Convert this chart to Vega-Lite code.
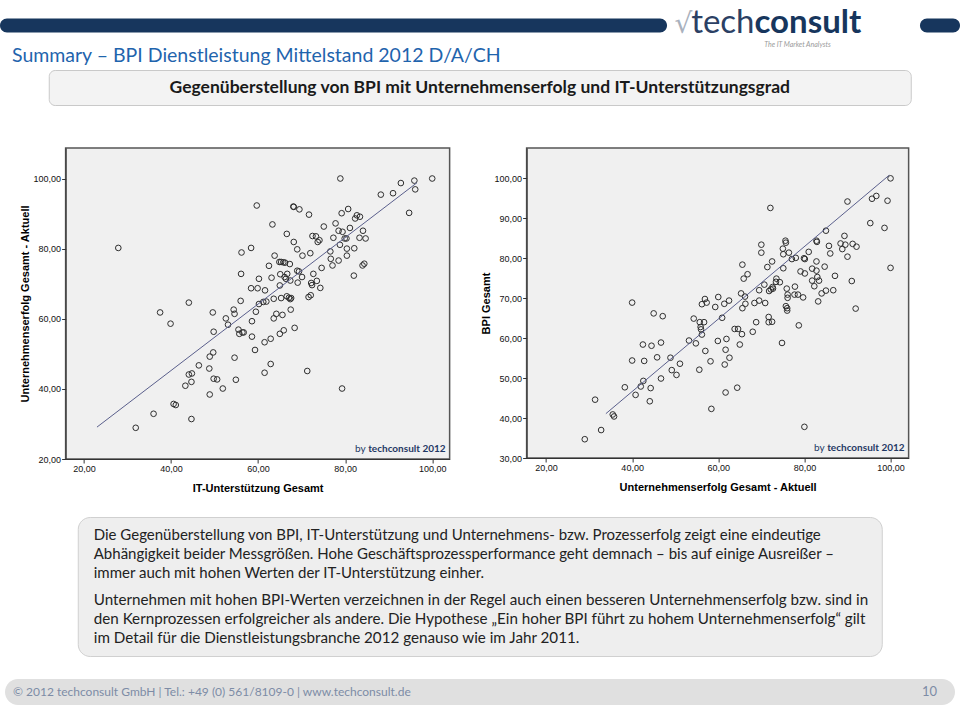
{
  "$schema": "https://vega.github.io/schema/vega-lite/v6.json",
  "background": "white",
  "padding": {"top": 3, "left": 0, "right": 0, "bottom": 0},
  "config": {
    "view": {"stroke": null},
    "font": "Lato",
    "axis": {
      "grid": false,
      "domainColor": "#333333",
      "tickColor": "#333333",
      "tickSize": 4,
      "labelFont": "Liberation Sans",
      "labelFontSize": 9,
      "labelColor": "#111111",
      "labelPadding": 1,
      "titleFont": "Liberation Sans",
      "titleFontSize": 11,
      "titleFontWeight": "bold",
      "titleColor": "#000000",
      "labelExpr": "replace(format(datum.value, '.2f'), '.', ',')"
    }
  },
  "datasets": {
    "it_vs_success": [
      {"it_support": 27.9, "success": 80.2}, {"it_support": 59.7, "success": 92.3}, {"it_support": 56.2, "success": 78.9},
      {"it_support": 58.4, "success": 80.2}, {"it_support": 56.1, "success": 72.8}, {"it_support": 60.2, "success": 71.4},
      {"it_support": 58.4, "success": 68.7}, {"it_support": 59.9, "success": 68.7}, {"it_support": 44.1, "success": 64.6},
      {"it_support": 56.0, "success": 65.1}, {"it_support": 60.2, "success": 64.2}, {"it_support": 37.5, "success": 61.8},
      {"it_support": 49.6, "success": 61.8}, {"it_support": 54.4, "success": 62.6}, {"it_support": 54.6, "success": 61.4},
      {"it_support": 52.6, "success": 60.1}, {"it_support": 39.9, "success": 58.6}, {"it_support": 53.1, "success": 58.3},
      {"it_support": 49.8, "success": 56.3}, {"it_support": 55.5, "success": 56.9}, {"it_support": 55.7, "success": 55.7},
      {"it_support": 56.4, "success": 56.1}, {"it_support": 56.7, "success": 56.1}, {"it_support": 58.6, "success": 59.3},
      {"it_support": 59.5, "success": 62.0}, {"it_support": 58.6, "success": 54.9}, {"it_support": 59.3, "success": 51.1},
      {"it_support": 49.7, "success": 50.4}, {"it_support": 48.9, "success": 49.2}, {"it_support": 54.6, "success": 48.9},
      {"it_support": 46.4, "success": 46.7}, {"it_support": 48.8, "success": 45.8}, {"it_support": 44.1, "success": 44.1},
      {"it_support": 44.8, "success": 44.4}, {"it_support": 49.8, "success": 42.9}, {"it_support": 50.6, "success": 42.7},
      {"it_support": 54.9, "success": 42.6}, {"it_support": 44.7, "success": 42.0}, {"it_support": 43.3, "success": 40.9},
      {"it_support": 51.9, "success": 40.1}, {"it_support": 48.9, "success": 38.4}, {"it_support": 40.6, "success": 35.7},
      {"it_support": 41.1, "success": 35.4}, {"it_support": 36.0, "success": 32.9}, {"it_support": 44.7, "success": 31.4},
      {"it_support": 31.9, "success": 28.9}, {"it_support": 78.9, "success": 100.0}, {"it_support": 100.0, "success": 100.0},
      {"it_support": 95.9, "success": 99.4}, {"it_support": 92.8, "success": 98.7}, {"it_support": 96.1, "success": 96.9},
      {"it_support": 91.0, "success": 95.8}, {"it_support": 88.2, "success": 95.4}, {"it_support": 94.7, "success": 90.2},
      {"it_support": 68.1, "success": 92.0}, {"it_support": 68.2, "success": 91.9}, {"it_support": 69.5, "success": 91.2},
      {"it_support": 71.7, "success": 89.7}, {"it_support": 80.7, "success": 91.3}, {"it_support": 79.2, "success": 90.1},
      {"it_support": 82.7, "success": 89.5}, {"it_support": 83.4, "success": 89.1}, {"it_support": 82.3, "success": 88.6},
      {"it_support": 63.3, "success": 86.9}, {"it_support": 75.1, "success": 86.3}, {"it_support": 77.8, "success": 87.2},
      {"it_support": 81.1, "success": 85.9}, {"it_support": 78.5, "success": 85.1}, {"it_support": 79.4, "success": 84.8},
      {"it_support": 84.1, "success": 85.1}, {"it_support": 66.6, "success": 84.2}, {"it_support": 72.5, "success": 83.6},
      {"it_support": 73.3, "success": 83.5}, {"it_support": 73.7, "success": 81.9}, {"it_support": 74.1, "success": 82.4},
      {"it_support": 77.3, "success": 83.1}, {"it_support": 79.9, "success": 82.9}, {"it_support": 80.3, "success": 82.9},
      {"it_support": 83.3, "success": 83.1}, {"it_support": 84.7, "success": 82.9}, {"it_support": 68.2, "success": 81.9},
      {"it_support": 78.8, "success": 81.1}, {"it_support": 69.0, "success": 79.8}, {"it_support": 76.6, "success": 79.2},
      {"it_support": 80.4, "success": 80.0}, {"it_support": 82.1, "success": 80.1}, {"it_support": 72.0, "success": 78.7},
      {"it_support": 70.2, "success": 78.0}, {"it_support": 63.8, "success": 78.0}, {"it_support": 80.4, "success": 78.0},
      {"it_support": 76.7, "success": 77.1}, {"it_support": 78.5, "success": 76.6}, {"it_support": 64.9, "success": 76.2},
      {"it_support": 65.3, "success": 76.2}, {"it_support": 65.8, "success": 76.1}, {"it_support": 66.2, "success": 76.0},
      {"it_support": 67.3, "success": 75.6}, {"it_support": 62.5, "success": 75.1}, {"it_support": 77.1, "success": 75.2},
      {"it_support": 84.0, "success": 75.2}, {"it_support": 84.4, "success": 75.7}, {"it_support": 74.6, "success": 74.5},
      {"it_support": 69.0, "success": 73.7}, {"it_support": 69.4, "success": 73.5}, {"it_support": 65.1, "success": 72.7},
      {"it_support": 66.7, "success": 72.8}, {"it_support": 72.7, "success": 72.8}, {"it_support": 66.1, "success": 71.9},
      {"it_support": 66.4, "success": 71.4}, {"it_support": 70.1, "success": 71.9}, {"it_support": 63.1, "success": 71.7},
      {"it_support": 82.0, "success": 72.3}, {"it_support": 73.5, "success": 70.8}, {"it_support": 67.4, "success": 70.9},
      {"it_support": 69.1, "success": 70.3}, {"it_support": 72.2, "success": 70.2}, {"it_support": 72.4, "success": 69.6},
      {"it_support": 65.0, "success": 69.5}, {"it_support": 74.3, "success": 68.8}, {"it_support": 61.6, "success": 68.1},
      {"it_support": 66.6, "success": 66.4}, {"it_support": 67.1, "success": 66.0}, {"it_support": 67.4, "success": 65.6},
      {"it_support": 67.6, "success": 65.9}, {"it_support": 65.3, "success": 65.9}, {"it_support": 63.6, "success": 65.7},
      {"it_support": 71.6, "success": 66.2}, {"it_support": 72.1, "success": 66.7}, {"it_support": 61.2, "success": 64.8},
      {"it_support": 61.9, "success": 64.9}, {"it_support": 64.2, "success": 61.4}, {"it_support": 65.6, "success": 61.1},
      {"it_support": 63.6, "success": 60.1}, {"it_support": 67.5, "success": 62.6}, {"it_support": 61.5, "success": 53.3},
      {"it_support": 62.9, "success": 54.3}, {"it_support": 65.0, "success": 55.7}, {"it_support": 65.9, "success": 56.7},
      {"it_support": 68.4, "success": 57.4}, {"it_support": 62.9, "success": 47.1}, {"it_support": 61.5, "success": 44.6},
      {"it_support": 71.3, "success": 45.1}, {"it_support": 79.3, "success": 40.1}
    ],
    "fit_left": [
      {"it_support": 23.0, "success": 29.1},
      {"it_support": 96.5, "success": 98.8}
    ],
    "success_vs_bpi": [
      {"success": 40.0, "bpi": 68.9}, {"success": 56.9, "bpi": 69.8}, {"success": 57.3, "bpi": 68.9}, {"success": 56.2, "bpi": 68.5},
      {"success": 60.0, "bpi": 70.3}, {"success": 100.0, "bpi": 100.0}, {"success": 96.7, "bpi": 95.6}, {"success": 95.7, "bpi": 94.9},
      {"success": 99.3, "bpi": 94.4}, {"success": 90.0, "bpi": 94.2}, {"success": 72.1, "bpi": 92.6}, {"success": 95.3, "bpi": 88.8},
      {"success": 98.6, "bpi": 87.6}, {"success": 85.0, "bpi": 86.9}, {"success": 89.3, "bpi": 85.6}, {"success": 75.6, "bpi": 84.4},
      {"success": 75.7, "bpi": 83.9}, {"success": 82.8, "bpi": 84.4}, {"success": 82.9, "bpi": 84.1}, {"success": 70.0, "bpi": 83.4},
      {"success": 88.4, "bpi": 83.7}, {"success": 89.5, "bpi": 83.4}, {"success": 91.2, "bpi": 83.6}, {"success": 92.1, "bpi": 82.9},
      {"success": 85.7, "bpi": 83.1}, {"success": 75.0, "bpi": 82.4}, {"success": 81.0, "bpi": 81.6}, {"success": 88.8, "bpi": 82.3},
      {"success": 86.0, "bpi": 81.2}, {"success": 70.0, "bpi": 81.4}, {"success": 75.1, "bpi": 81.0}, {"success": 76.4, "bpi": 81.4},
      {"success": 90.0, "bpi": 80.4}, {"success": 78.0, "bpi": 80.1}, {"success": 77.1, "bpi": 79.8}, {"success": 79.9, "bpi": 80.0},
      {"success": 80.1, "bpi": 79.8}, {"success": 72.5, "bpi": 79.2}, {"success": 82.8, "bpi": 79.2}, {"success": 65.6, "bpi": 78.4},
      {"success": 71.4, "bpi": 77.8}, {"success": 75.1, "bpi": 77.5}, {"success": 100.0, "bpi": 77.6}, {"success": 84.7, "bpi": 77.9},
      {"success": 81.8, "bpi": 77.4}, {"success": 82.8, "bpi": 76.9}, {"success": 79.1, "bpi": 76.7}, {"success": 80.1, "bpi": 76.2},
      {"success": 66.8, "bpi": 76.0}, {"success": 65.9, "bpi": 74.9}, {"success": 87.1, "bpi": 75.6}, {"success": 83.0, "bpi": 75.3},
      {"success": 81.8, "bpi": 74.4}, {"success": 83.4, "bpi": 74.4}, {"success": 73.5, "bpi": 74.9}, {"success": 73.4, "bpi": 74.1},
      {"success": 74.3, "bpi": 74.0}, {"success": 70.7, "bpi": 73.4}, {"success": 91.0, "bpi": 74.3}, {"success": 72.6, "bpi": 72.8},
      {"success": 72.2, "bpi": 72.2}, {"success": 71.8, "bpi": 71.8}, {"success": 72.7, "bpi": 72.4}, {"success": 69.5, "bpi": 72.0},
      {"success": 75.9, "bpi": 72.4}, {"success": 77.8, "bpi": 72.9}, {"success": 82.3, "bpi": 73.0}, {"success": 85.0, "bpi": 71.9},
      {"success": 84.0, "bpi": 71.2}, {"success": 86.7, "bpi": 72.0}, {"success": 65.3, "bpi": 71.2}, {"success": 66.2, "bpi": 70.4},
      {"success": 76.1, "bpi": 70.9}, {"success": 76.1, "bpi": 70.1}, {"success": 77.7, "bpi": 70.9}, {"success": 78.5, "bpi": 70.9},
      {"success": 79.7, "bpi": 70.2}, {"success": 62.5, "bpi": 69.4}, {"success": 61.4, "bpi": 68.6}, {"success": 69.5, "bpi": 69.4},
      {"success": 68.4, "bpi": 68.8}, {"success": 70.9, "bpi": 68.8}, {"success": 83.2, "bpi": 69.2}, {"success": 66.3, "bpi": 68.6},
      {"success": 45.0, "bpi": 66.2}, {"success": 47.1, "bpi": 65.5}, {"success": 54.3, "bpi": 64.9}, {"success": 59.3, "bpi": 67.8},
      {"success": 55.7, "bpi": 64.0}, {"success": 56.7, "bpi": 64.0}, {"success": 55.9, "bpi": 62.8}, {"success": 56.0, "bpi": 62.2},
      {"success": 56.2, "bpi": 60.9}, {"success": 42.5, "bpi": 58.4}, {"success": 44.5, "bpi": 58.1}, {"success": 46.7, "bpi": 58.9},
      {"success": 53.2, "bpi": 59.4}, {"success": 54.8, "bpi": 58.7}, {"success": 59.9, "bpi": 59.3}, {"success": 57.0, "bpi": 56.8},
      {"success": 40.0, "bpi": 54.4}, {"success": 42.8, "bpi": 54.3}, {"success": 45.8, "bpi": 55.2}, {"success": 48.9, "bpi": 55.1},
      {"success": 51.1, "bpi": 53.6}, {"success": 58.2, "bpi": 54.2}, {"success": 49.2, "bpi": 52.0}, {"success": 50.3, "bpi": 50.8},
      {"success": 55.6, "bpi": 52.1}, {"success": 46.7, "bpi": 49.9}, {"success": 42.6, "bpi": 49.3}, {"success": 42.0, "bpi": 47.9},
      {"success": 38.3, "bpi": 47.7}, {"success": 44.3, "bpi": 47.5}, {"success": 40.8, "bpi": 45.8}, {"success": 44.1, "bpi": 44.2},
      {"success": 31.4, "bpi": 44.6}, {"success": 35.5, "bpi": 40.9}, {"success": 35.8, "bpi": 40.4}, {"success": 58.4, "bpi": 42.3},
      {"success": 32.8, "bpi": 37.0}, {"success": 29.0, "bpi": 34.7}, {"success": 65.6, "bpi": 67.5}, {"success": 60.9, "bpi": 65.1},
      {"success": 75.7, "bpi": 68.0}, {"success": 76.0, "bpi": 67.5}, {"success": 76.0, "bpi": 66.9}, {"success": 91.9, "bpi": 67.4},
      {"success": 68.8, "bpi": 64.0}, {"success": 71.7, "bpi": 65.3}, {"success": 71.7, "bpi": 64.0}, {"success": 72.5, "bpi": 64.1},
      {"success": 63.8, "bpi": 62.3}, {"success": 64.6, "bpi": 62.3}, {"success": 65.5, "bpi": 61.0}, {"success": 68.0, "bpi": 61.6},
      {"success": 78.7, "bpi": 63.2}, {"success": 61.9, "bpi": 59.8}, {"success": 65.0, "bpi": 58.4}, {"success": 74.8, "bpi": 58.8},
      {"success": 61.7, "bpi": 57.1}, {"success": 62.6, "bpi": 55.1}, {"success": 61.5, "bpi": 53.4}, {"success": 64.4, "bpi": 47.6},
      {"success": 61.7, "bpi": 46.4}, {"success": 80.0, "bpi": 37.8}
    ],
    "fit_right": [
      {"success": 33.9, "bpi": 41.1},
      {"success": 99.7, "bpi": 100.8}
    ],
    "paragraph": [
      {"para": 1, "line": 1, "text": "Die Gegenüberstellung von BPI, IT-Unterstützung und Unternehmens- bzw. Prozesserfolg zeigt eine eindeutige"},
      {"para": 1, "line": 2, "text": "Abhängigkeit beider Messgrößen. Hohe Geschäftsprozessperformance geht demnach – bis auf einige Ausreißer –"},
      {"para": 1, "line": 3, "text": "immer auch mit hohen Werten der IT-Unterstützung einher."},
      {"para": 2, "line": 4, "text": "Unternehmen mit hohen BPI-Werten verzeichnen in der Regel auch einen besseren Unternehmenserfolg bzw. sind in"},
      {"para": 2, "line": 5, "text": "den Kernprozessen erfolgreicher als andere. Die Hypothese „Ein hoher BPI führt zu hohem Unternehmenserfolg“ gilt"},
      {"para": 2, "line": 6, "text": "im Detail für die Dienstleistungsbranche 2012 genauso wie im Jahr 2011."}
    ],
    "one": [{}]
  },
  "spacing": 41,
  "center": true,
  "vconcat": [
    {
      "spacing": -3,
      "center": true,
      "vconcat": [
        {
          "spacing": 0,
          "center": true,
          "hconcat": [
            {
              "width": 667, "height": 14,
              "data": {"name": "one"},
              "mark": {"type": "text", "text": "", "fontSize": 1},
              "view": {"fill": "#17365d", "cornerRadius": 7}
            },
            {
              "width": 253, "height": 42,
              "data": {"name": "one"},
              "layer": [
                {"mark": {"type": "text", "text": "√", "font": "DejaVu Sans", "fontSize": 28, "color": "#a9b1bd", "align": "center", "baseline": "alphabetic", "dx": -110, "dy": 9}},
                {"mark": {"type": "text", "text": "tech", "fontSize": 33, "color": "#2b4064", "align": "right", "baseline": "alphabetic", "dx": -39, "dy": 9}},
                {"mark": {"type": "text", "text": "consult", "fontSize": 33, "fontWeight": "bold", "color": "#17365d", "align": "left", "baseline": "alphabetic", "dx": -39, "dy": 9}},
                {"mark": {"type": "text", "text": "The IT Market Analysts", "fontSize": 7, "fontStyle": "italic", "color": "#9a9a9a", "align": "center", "baseline": "alphabetic", "dx": 4, "dy": 23}}
              ]
            },
            {
              "width": 40, "height": 14,
              "data": {"name": "one"},
              "mark": {"type": "text", "text": "", "fontSize": 1},
              "view": {"fill": "#17365d", "cornerRadius": 7}
            }
          ]
        },
        {
          "width": 936, "height": 22,
          "data": {"name": "one"},
          "mark": {"type": "text", "text": "Summary – BPI Dienstleistung Mittelstand 2012 D/A/CH", "fontSize": 19.5, "color": "#1f64ad", "align": "left", "baseline": "middle", "dy": -3.5},
          "encoding": {"x": {"datum": 0, "type": "quantitative", "scale": {"domain": [0, 1]}, "axis": null}}
        },
        {
          "width": 862, "height": 35,
          "data": {"name": "one"},
          "mark": {"type": "text", "text": "Gegenüberstellung von BPI mit Unternehmenserfolg und IT-Unterstützungsgrad", "fontSize": 17.5, "fontWeight": "bold", "color": "#1a1a1a", "align": "center", "baseline": "middle"},
          "view": {"fill": "#f3f3f3", "stroke": "#c9c9c9", "strokeWidth": 1, "cornerRadius": 6}
        }
      ]
    },
    {
      "spacing": 22,
      "center": true,
      "vconcat": [
        {
          "spacing": 0,
          "bounds": "flush",
          "hconcat": [
            {
              "width": 15, "height": 311,
              "data": {"name": "one"},
              "mark": {"type": "text", "text": "", "fontSize": 1}
            },
            {
              "spacing": 77,
              "bounds": "flush",
              "hconcat": [
                {
                  "width": 384, "height": 311,
                  "view": {"fill": "#f0f0f0", "stroke": "#555555", "strokeWidth": 1.5},
                  "layer": [
                    {
                      "data": {"name": "it_vs_success"},
                      "mark": {"type": "point", "shape": "circle", "filled": false, "size": 32, "stroke": "#2e2e2e", "strokeWidth": 1, "opacity": 1},
                      "encoding": {
                        "x": {"field": "it_support", "type": "quantitative", "scale": {"domain": [15.8, 104], "nice": false, "zero": false},
                              "axis": {"values": [20, 40, 60, 80, 100], "title": "IT-Unterstützung Gesamt", "titlePadding": 9}},
                        "y": {"field": "success", "type": "quantitative", "scale": {"domain": [20, 108.7], "nice": false, "zero": false},
                              "axis": {"values": [20, 40, 60, 80, 100], "title": "Unternehmenserfolg Gesamt - Aktuell", "titlePadding": 3, "labelPadding": 1}}
                      }
                    },
                    {
                      "data": {"name": "fit_left"},
                      "mark": {"type": "line", "color": "#5a5f8c", "strokeWidth": 1},
                      "encoding": {
                        "x": {"field": "it_support", "type": "quantitative"},
                        "y": {"field": "success", "type": "quantitative"}
                      }
                    },
                    {
                      "data": {"name": "one"},
                      "mark": {"type": "text", "text": "techconsult 2012", "fontSize": 10, "fontWeight": "bold", "color": "#1f3864", "align": "right", "baseline": "bottom", "dx": -4, "dy": -5},
                      "encoding": {"x": {"datum": 104, "type": "quantitative"}, "y": {"datum": 20, "type": "quantitative"}}
                    },
                    {
                      "data": {"name": "one"},
                      "mark": {"type": "text", "text": "by", "fontSize": 10, "color": "#1f3864", "align": "right", "baseline": "bottom", "dx": -84, "dy": -5},
                      "encoding": {"x": {"datum": 104, "type": "quantitative"}, "y": {"datum": 20, "type": "quantitative"}}
                    }
                  ]
                },
                {
                  "width": 382, "height": 310,
                  "view": {"fill": "#f0f0f0", "stroke": "#555555", "strokeWidth": 1.5},
                  "layer": [
                    {
                      "data": {"name": "success_vs_bpi"},
                      "mark": {"type": "point", "shape": "circle", "filled": false, "size": 32, "stroke": "#2e2e2e", "strokeWidth": 1, "opacity": 1},
                      "encoding": {
                        "x": {"field": "success", "type": "quantitative", "scale": {"domain": [15.5, 104.2], "nice": false, "zero": false},
                              "axis": {"values": [20, 40, 60, 80, 100], "title": "Unternehmenserfolg Gesamt - Aktuell", "titlePadding": 9}},
                        "y": {"field": "bpi", "type": "quantitative", "scale": {"domain": [30, 107.6], "nice": false, "zero": false},
                              "axis": {"values": [30, 40, 50, 60, 70, 80, 90, 100], "title": "BPI Gesamt", "titlePadding": 3, "labelPadding": 1}}
                      }
                    },
                    {
                      "data": {"name": "fit_right"},
                      "mark": {"type": "line", "color": "#5a5f8c", "strokeWidth": 1},
                      "encoding": {
                        "x": {"field": "success", "type": "quantitative"},
                        "y": {"field": "bpi", "type": "quantitative"}
                      }
                    },
                    {
                      "data": {"name": "one"},
                      "mark": {"type": "text", "text": "techconsult 2012", "fontSize": 10, "fontWeight": "bold", "color": "#1f3864", "align": "right", "baseline": "bottom", "dx": -4, "dy": -5},
                      "encoding": {"x": {"datum": 104.2, "type": "quantitative"}, "y": {"datum": 30, "type": "quantitative"}}
                    },
                    {
                      "data": {"name": "one"},
                      "mark": {"type": "text", "text": "by", "fontSize": 10, "color": "#1f3864", "align": "right", "baseline": "bottom", "dx": -84, "dy": -5},
                      "encoding": {"x": {"datum": 104.2, "type": "quantitative"}, "y": {"datum": 30, "type": "quantitative"}}
                    }
                  ]
                }
              ]
            }
          ]
        },
        {
          "width": 804, "height": 139,
          "view": {"fill": "#eeeeee", "stroke": "#d0d0d0", "strokeWidth": 1, "cornerRadius": 12},
          "data": {"name": "paragraph"},
          "layer": [
            {
              "transform": [{"filter": "datum.para == 1"}],
              "mark": {"type": "text", "align": "left", "baseline": "middle", "fontSize": 15, "color": "#222222", "dx": 16},
              "encoding": {
                "x": {"datum": 0, "type": "quantitative", "scale": {"domain": [0, 1]}, "axis": null},
                "y": {"field": "line", "type": "quantitative", "scale": {"domain": [0.04, 7.43], "reverse": true, "nice": false, "zero": false}, "axis": null},
                "text": {"field": "text"}
              }
            },
            {
              "transform": [{"filter": "datum.para == 2"}],
              "mark": {"type": "text", "align": "left", "baseline": "middle", "fontSize": 15.2, "color": "#222222", "dx": 16, "dy": 9},
              "encoding": {
                "x": {"datum": 0, "type": "quantitative", "scale": {"domain": [0, 1]}, "axis": null},
                "y": {"field": "line", "type": "quantitative", "axis": null},
                "text": {"field": "text"}
              }
            }
          ]
        },
        {
          "width": 950, "height": 26,
          "view": {"fill": "#e0e0e0", "cornerRadius": 13},
          "data": {"name": "one"},
          "layer": [
            {
              "mark": {"type": "text", "text": "© 2012 techconsult GmbH   |   Tel.: +49 (0) 561/8109-0   |   www.techconsult.de", "align": "left", "baseline": "middle", "fontSize": 12, "color": "#7d8ca6", "dx": 8},
              "encoding": {"x": {"datum": 0, "type": "quantitative", "scale": {"domain": [0, 1]}, "axis": null}}
            },
            {
              "mark": {"type": "text", "text": "10", "align": "right", "baseline": "middle", "fontSize": 13, "color": "#7d8ca6", "dx": -18},
              "encoding": {"x": {"datum": 1, "type": "quantitative"}}
            }
          ]
        }
      ]
    }
  ]
}
